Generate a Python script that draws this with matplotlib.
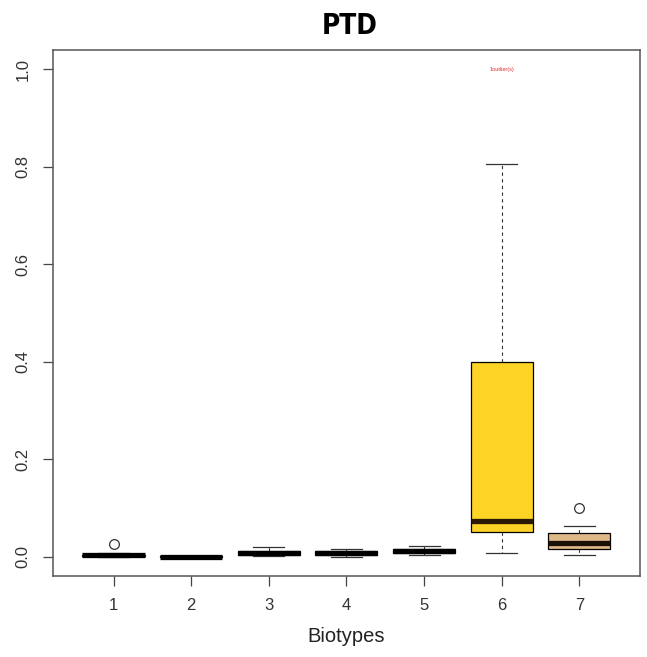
import matplotlib
matplotlib.use("Agg")
import matplotlib.pyplot as plt

# five-number summaries per biotype (whisker low, Q1, median, Q3, whisker high)
biotypes = [1, 2, 3, 4, 5, 6, 7]
whislo = [0.000, 0.000, 0.002, 0.000, 0.004, 0.008, 0.004]
q1 = [0.001, 0.000, 0.004, 0.003, 0.008, 0.050, 0.015]
med = [0.003, 0.000, 0.008, 0.007, 0.012, 0.072, 0.027]
q3 = [0.004, 0.001, 0.011, 0.012, 0.016, 0.400, 0.049]
whishi = [0.007, 0.001, 0.020, 0.016, 0.022, 0.805, 0.062]
outliers = [[0.025], [], [], [], [], [], [0.100]]
fills = ["white", "white", "white", "white", "white", "#FDD325", "#DEB887"]
clipped_note = "1outlier(s)"

stats = []
for i in range(len(biotypes)):
    stats.append(dict(whislo=whislo[i], q1=q1[i], med=med[i], q3=q3[i],
                      whishi=whishi[i], fliers=outliers[i], label=str(biotypes[i])))

plt.rcParams['font.family'] = ['Liberation Sans', 'DejaVu Sans']

fig = plt.figure(figsize=(6.47, 6.57), dpi=100)
ax = fig.add_axes([0.0819, 0.1233, 0.9071, 0.8006])

bp = ax.bxp(stats, positions=biotypes, widths=0.8, patch_artist=True,
            boxprops=dict(linewidth=0.9, edgecolor="black"),
            medianprops=dict(color="black", linewidth=3.8, solid_capstyle="butt"),
            whiskerprops=dict(linestyle=(0, (3, 3)), linewidth=0.8, color="#333333"),
            capprops=dict(linewidth=0.9, color="#333333"),
            capwidths=0.4,
            flierprops=dict(marker="o", markerfacecolor="none", markeredgecolor="#333333",
                            markersize=7, markeredgewidth=0.9))
for patch, c in zip(bp["boxes"], fills):
    patch.set_facecolor(c)
bp["medians"][5].set_color("#2a1a05")
bp["medians"][6].set_color("#1a1005")

ax.text(6, 1.0, clipped_note, color="#e03030", fontsize=4, ha="center", va="center")

ax.set_xlim(0.22, 7.78)
ax.set_ylim(-0.04, 1.04)
ax.set_xticks(biotypes)
ax.set_xticklabels([str(b) for b in biotypes])
ax.set_yticks([0.0, 0.2, 0.4, 0.6, 0.8, 1.0])
ax.set_yticklabels(["0.0", "0.2", "0.4", "0.6", "0.8", "1.0"], rotation=90, va="center")
ax.tick_params(axis="both", direction="out", length=7, width=0.9, colors="#444444",
               labelcolor="#333333", labelsize=12, pad=9)
for s in ax.spines.values():
    s.set_linewidth(1.1)
    s.set_color("#555555")

ax.set_xlabel("Biotypes", fontsize=14.5, color="#222222", labelpad=10)
fig.suptitle("PTD", x=0.54, y=0.982, fontsize=20, fontweight="bold",
             family="DejaVu Sans", fontstretch="condensed")

fig.savefig("out.png", dpi=100)
